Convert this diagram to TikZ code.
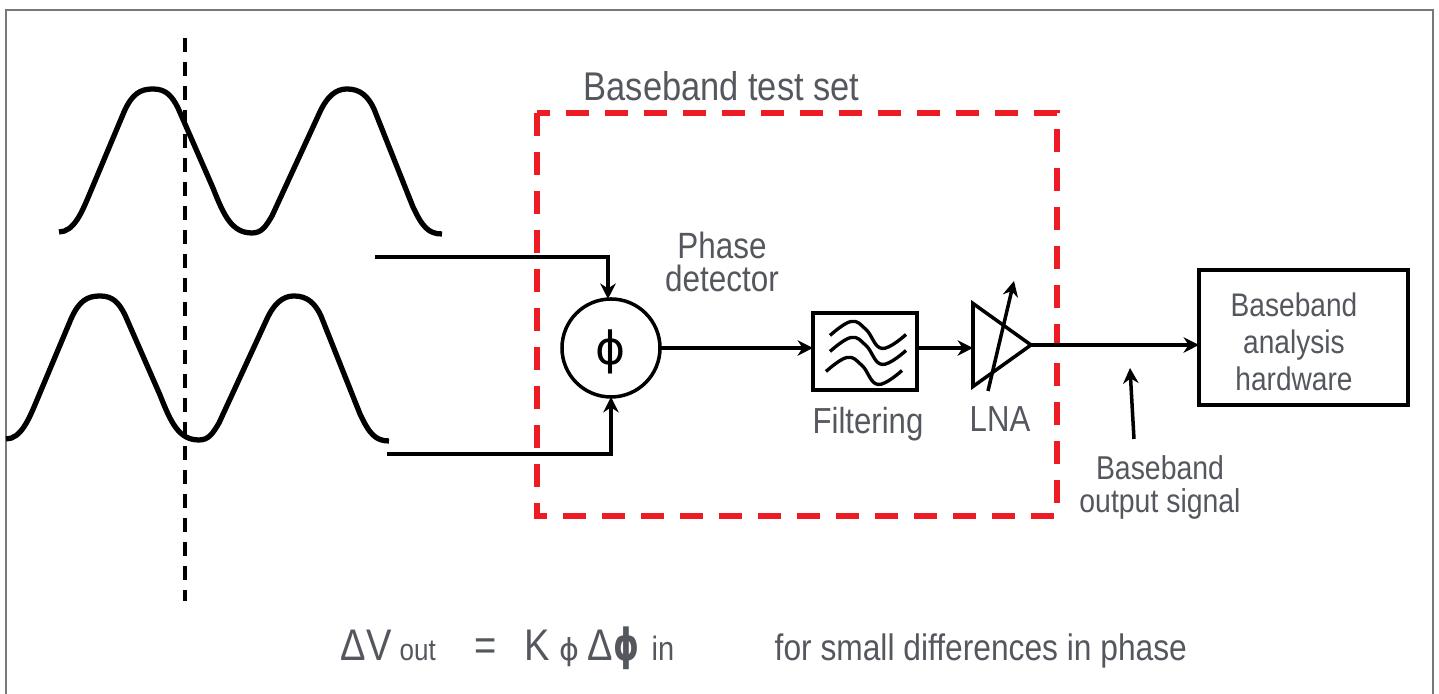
\documentclass[tikz,border=0pt]{standalone}
\usepackage{fontspec}
\usepackage{xcolor}
\usepackage{tikz}
\usetikzlibrary{calc, arrows.meta, shapes.geometric}
\setmainfont[FakeStretch=0.86]{Liberation Sans}
\newfontfamily\symfont{DejaVu Sans}
\newfontfamily\symbold[FakeStretch=0.74]{DejaVu Sans Bold}
\definecolor{framec}{RGB}{120,120,120}
\definecolor{labelc}{RGB}{84,88,94}
\definecolor{testc}{RGB}{237,28,36}
\tikzset{
  signal/.style={line width=1.5pt, line join=round},
  wire/.style={line width=1pt, ->},
  block/.style={draw, line width=1pt, inner sep=0pt, outer sep=0pt},
  caption/.style={text=labelc, align=center, inner sep=0pt, font=\fontsize{10.3}{10.3}\selectfont},
  smallcaption/.style={caption, font=\fontsize{9.4}{9.4}\selectfont},
  formula/.style={text=labelc, anchor=base west, inner sep=0pt},
}

\begin{document}
\begin{tikzpicture}[>={Stealth[length=4.4pt, width=4.4pt]}]
\useasboundingbox (0,0) rectangle (14.39,6.94);

% 1 unit = 100 px of the page; y counted from the bottom edge

%% ── frame ────────────────────────────────────────────────────────
\draw[framec, line width=0.35pt] (0.06,0) -- (0.06,6.84) -- (14.33,6.84) -- (14.33,0);

%% ── input waves ──────────────────────────────────────────────────
\foreach \dx/\dy in {0/0, -0.53/-2.07}{
  \draw[signal, shift={(\dx,\dy)}] (0.59,4.62)
    .. controls (0.74,4.62) and (0.82,4.82) .. (0.90,5.01) -- (1.24,5.82)
    .. controls (1.32,6.00) and (1.40,6.05) .. (1.53,6.05)
    .. controls (1.66,6.05) and (1.72,5.98) .. (1.78,5.86) -- (2.13,5.06)
    .. controls (2.24,4.78) and (2.32,4.61) .. (2.52,4.61)
    .. controls (2.62,4.61) and (2.66,4.68) .. (2.72,4.78) -- (3.19,5.80)
    .. controls (3.27,5.98) and (3.36,6.05) .. (3.47,6.05)
    .. controls (3.60,6.05) and (3.68,5.98) .. (3.74,5.85) -- (4.13,4.87)
    .. controls (4.22,4.68) and (4.28,4.60) .. (4.42,4.60);
}
\draw[line width=1pt, dash pattern=on 0.14cm off 0.10cm] (1.85,6.56) -- (1.85,0.93);

%% ── test set outline ─────────────────────────────────────────────
\draw[testc, line width=1.45pt, dash pattern=on 0.23cm off 0.16cm] (5.37,5.81) rectangle (10.57,1.78);
\node[caption, anchor=west, font=\fontsize{11.4}{11.4}\selectfont] (testlabel) at (5.83,6.08) {Baseband test set};

%% ── blocks ───────────────────────────────────────────────────────
\node[block, circle, minimum size=0.98cm] (phase) at (6.11,3.46) {};
\node[inner sep=0pt, font=\symfont\fontsize{13}{13}\selectfont] (phasesym) at (6.11,3.42) {ϕ};
\node[block, minimum width=1.04cm, minimum height=0.77cm] (filter) at (8.65,3.425) {};
\node[block, isosceles triangle, isosceles triangle stretches, shape border rotate=0,
      minimum width=0.83cm, minimum height=0.58cm, anchor=lower side] (lna) at (9.73,3.49) {};
\node[block, minimum width=2.09cm, minimum height=1.35cm] (hardware) at (13.035,3.565) {};

% filter curves
\foreach \dx/\dy in {0/0, 0/-0.16, -0.04/-0.36}{
  \begin{scope}[shift={(filter.center)}, xshift=\dx cm, yshift=\dy cm]
    \draw[line width=0.95pt] plot[smooth, tension=0.7] coordinates
      {(-0.35,0.16) (-0.14,0.30) (0.01,0.22) (0.17,0.03) (0.41,0.17)};
  \end{scope}
}

%% ── connectors ───────────────────────────────────────────────────
\coordinate (refin) at (3.75,4.37);
\coordinate (testin) at (3.87,2.40);
\coordinate (lnafoot) at (9.88,3.03);
\coordinate (lnatip) at (10.14,4.13);
\coordinate (signalfoot) at (11.34,2.55);
\coordinate (signaltip) at (11.30,3.26);

\draw[wire] (refin) -| ($(phase.north)+(-0.03,0)$);
\draw[wire] (testin) -| ($(phase.south)+(0,0)$);
\draw[wire] (phase.east) -- (phase.east -| filter.west);
\draw[wire] (filter.east |- phase.east) -- (phase.east -| lna.lower side);
\draw[wire] (lna.apex) -- (lna.apex -| hardware.west);
\draw[wire] (lnafoot) -- (lnatip);
\draw[wire] (signalfoot) -- (signaltip);

%% ── labels ───────────────────────────────────────────────────────
\node[caption, font=\fontsize{10.4}{9.4}\selectfont] (phaselabel) at (7.22,4.32) {Phase\\detector};
\node[caption] (filterlabel) at (8.68,2.70) {Filtering};
\node[caption] (lnalabel) at (10.00,2.75) {LNA};
\node[smallcaption] (signallabel) at (11.60,2.07) {Baseband\\output signal};
\node[caption, font=\fontsize{9.3}{10.5}\selectfont] (hardwarelabel) at (12.94,3.52) {Baseband\\analysis\\hardware};

%% ── formula line ─────────────────────────────────────────────────
\node[formula, font=\fontsize{12.6}{12.6}\selectfont] (dv) at (3.40,0.33) {ΔV};
\node[formula, font=\fontsize{8.6}{8.6}\selectfont] (vout) at (3.99,0.33) {out};
\node[formula, font=\fontsize{12.6}{12.6}\selectfont] (equals) at (4.74,0.33) {=};
\node[formula, font=\fontsize{12.6}{12.6}\selectfont] (kgain) at (5.24,0.33) {K};
\node[formula, font=\symfont\fontsize{8.6}{8.6}\selectfont] (ksub) at (5.59,0.33) {ϕ};
\node[formula, font=\fontsize{12.6}{12.6}\selectfont] (dphi) at (5.87,0.33) {Δ{\symbold ϕ}};
\node[formula, font=\fontsize{9.6}{9.6}\selectfont] (phin) at (6.51,0.33) {in};
\node[formula, font=\fontsize{10.5}{10.5}\selectfont] (smallnote) at (7.74,0.33) {for small differences in phase};

\end{tikzpicture}
\end{document}
